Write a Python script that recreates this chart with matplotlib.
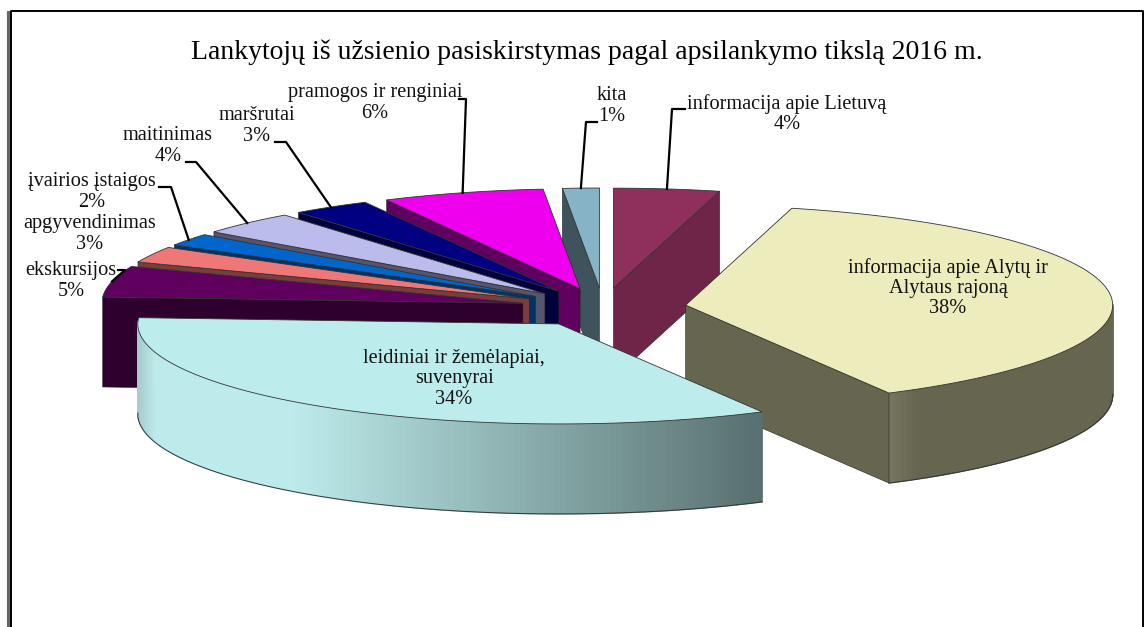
import numpy as np
import matplotlib
matplotlib.use("Agg")
import matplotlib.pyplot as plt
from matplotlib.colors import to_rgb

title = "Lankytojų iš užsienio pasiskirstymas pagal apsilankymo tikslą 2016 m."
labels = ["informacija apie Lietuvą", "informacija apie Alytų ir\nAlytaus rajoną",
          "leidiniai ir žemėlapiai,\nsuvenyrai", "ekskursijos", "apgyvendinimas",
          "įvairios įstaigos", "maitinimas", "maršrutai", "pramogos ir renginiai", "kita"]
pct_text = ["4%", "38%", "34%", "5%", "3%", "2%", "4%", "3%", "6%", "1%"]
values = [4.0, 38.1, 33.9, 5.0, 2.6, 2.0, 3.8, 3.0, 6.2, 1.4]

top_colors = ["#8E2F5C", "#ECECBC", "#BCECEC", "#5F005F", "#EE7777",
              "#0066CC", "#BBBBEC", "#000080", "#EE00EE", "#87B3C6"]
wall_colors = ["#6F2548", "#666650", "#7FA6A6", "#2D002D", "#7A3D3D",
               "#003366", "#55556E", "#00003D", "#5F005F", "#3E535C"]

# layout of the fake 3d pie, the left side is a bit smaller
cx, cy = 603, 307.5
rx_right, rx_left = 427, 421
ry = 100
explode = 0.195
depth = 90


def ell(a, r=1.0):
    a = np.asarray(a)
    x = r * np.where(np.sin(a) < 0, rx_left, rx_right) * np.sin(a)
    y = -r * ry * np.cos(a)
    return x, y


def mix(c1, c2, t):
    c1, c2 = np.array(to_rgb(c1)), np.array(to_rgb(c2))
    return tuple(c1 + (c2 - c1) * t)


fig = plt.figure(figsize=(11.44, 6.27), dpi=100)
ax = fig.add_axes([0, 0, 1, 1])
ax.set_xlim(0, 1144)
ax.set_ylim(627, 0)
ax.axis("off")
plt.rcParams["font.family"] = ["Liberation Serif", "DejaVu Sans"]

# frame of the screenshot
ax.plot([9, 9], [627, 11], color="#666666", lw=3, solid_capstyle="butt")
ax.plot([11, 11, 1143, 1143], [627, 11, 11, 627], color="black", lw=1.4)

edges = np.radians(np.cumsum([0] + values) * 360 / sum(values))
mids = (edges[:-1] + edges[1:]) / 2
order = np.argsort(-np.cos(mids))
anchors = {}

for z, i in enumerate(order):
    a0, a1 = edges[i], edges[i + 1]
    dx, dy = ell(mids[i], explode)
    px, py = cx + dx, cy + dy
    ang = np.linspace(a0, a1, 160)
    ex, ey = ell(ang)
    ax_pts = px + ex
    ay_pts = py + ey
    mx, my = ell(mids[i])
    anchors[i] = (px + mx, py + my)
    zz = 10 + z * 3

    # rim, front half only, shaded left to right
    for k in range(len(ang) - 1):
        if np.cos(ang[k]) < 0.02:
            if i == 2:  # big slice has the long gradient
                t = np.clip((ax_pts[k] - ax_pts.min()) / (ax_pts.max() - ax_pts.min()), 0, 1)
                col = mix("#BDEBEB", "#58706F", max(0, (t - 0.25) / 0.75))
                if t < 0.03:
                    col = mix("#A8CCCC", "#BDEBEB", t / 0.03)
            elif i == 1:
                t = np.clip((ax_pts[k] - ax_pts[-1]) / 30, 0, 1)
                col = mix("#787862", wall_colors[i], t)
            else:
                col = wall_colors[i]
            ax.fill([ax_pts[k], ax_pts[k + 1], ax_pts[k + 1], ax_pts[k]],
                    [ay_pts[k], ay_pts[k + 1], ay_pts[k + 1] + depth, ay_pts[k] + depth],
                    color=col, lw=1.0, zorder=zz)
    front = np.cos(ang) < 0.02
    if front.any():
        ax.plot(ax_pts[front], ay_pts[front] + depth, color="#333333", lw=0.7, zorder=zz)

    # radial walls facing the viewer
    if np.sin(a0) < 0:
        ex0, ey0 = ell(a0)
        ax.fill([px, px + ex0, px + ex0, px], [py, py + ey0, py + ey0 + depth, py + depth],
                color=wall_colors[i], ec="#222222", lw=0.4, zorder=zz)
    if np.sin(a1) > 0:
        ex1, ey1 = ell(a1)
        ax.fill([px, px + ex1, px + ex1, px], [py, py + ey1, py + ey1 + depth, py + depth],
                color=wall_colors[i], ec="#222222", lw=0.4, zorder=zz)

    # top face
    ax.fill(np.r_[px, ax_pts], np.r_[py, ay_pts], color=top_colors[i], ec="#333333", lw=0.6,
            zorder=zz + 1)

# text placement and leader elbows, picture coordinates
label_xy = [(787, 114), (948, 288), (454, 379), (71, 281), (90, 234),
            (92, 192), (168, 146), (257, 126), (375, 103), (612, 106)]
leaders = {0: [(685, 109), (672, 109)], 3: [(118, 270), (125, 270)],
           5: [(159, 187), (171, 187)], 6: [(186, 162), (196, 162)],
           7: [(275, 142), (286, 142)], 8: [(459, 99), (466, 99)],
           9: [(597, 122), (586, 122)]}

for i, pts in leaders.items():
    xs = [p[0] for p in pts] + [anchors[i][0]]
    ys = [p[1] for p in pts] + [anchors[i][1]]
    ax.plot(xs, ys, color="black", lw=1.6, zorder=60)

for i, (x, y) in enumerate(label_xy):
    ax.text(x, y, labels[i] + "\n" + pct_text[i], ha="center", va="center", fontsize=14.6,
            linespacing=1.1, color="#111111", zorder=70)

ax.text(587, 52, title, ha="center", va="center", fontsize=20, color="black", zorder=70)

fig.savefig("out.png", dpi=100)
